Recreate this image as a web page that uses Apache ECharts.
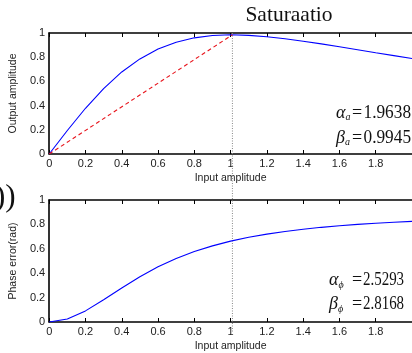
<!DOCTYPE html>
<html><head><meta charset="utf-8">
<script src="https://cdn.jsdelivr.net/npm/echarts@6/dist/echarts.min.js"></script>
<style>html,body{margin:0;padding:0;background:#fff}#c{width:412px;height:353px}</style>
</head><body><div id="c"></div>
<script>
var inputAmp = [0,0.1,0.2,0.3,0.4,0.5,0.6,0.7,0.8,0.9,1.0,1.1,1.2,1.3,1.4,1.5,1.6,1.7,1.8,1.9,2.0];
var outputAmp = [0,0.194,0.378,0.541,0.678,0.786,0.868,0.924,0.960,0.979,0.985,0.980,0.969,0.952,0.932,0.910,0.886,0.862,0.837,0.813,0.789];
var phaseErr = [0,0.025,0.091,0.182,0.279,0.371,0.452,0.521,0.578,0.624,0.663,0.694,0.720,0.742,0.760,0.776,0.789,0.800,0.809,0.818,0.825];
var linearX = [0,1.01];
var linearY = [0,0.985];
var saturationX = 1.01;
var titleText = 'Saturaatio';
var xName = 'Input amplitude';
var yName1 = 'Output amplitude';
var yName2 = 'Phase error(rad)';
var params = [
  {sym:'α', sub:'a', val:'1.9638'},
  {sym:'β', sub:'a', val:'0.9945'},
  {sym:'α', sub:'ϕ', val:'2.5293'},
  {sym:'β', sub:'ϕ', val:'2.8168'}
];

function zip(a,b){return a.map(function(v,i){return [v,b[i]];});}
var chart = echarts.init(document.getElementById('c'));
var lab = {fontFamily:'Liberation Sans, Arial', fontSize:11, color:'#222', margin:4};
function xAx(gi, pos, showLab){
  return {gridIndex:gi, type:'value', position:pos, min:0, max:2, interval:0.2,
    axisLine:{show:true, lineStyle:{color:'#000', width:1.6}},
    axisTick:{show:true, inside:true, length:4, lineStyle:{color:'#000'}},
    splitLine:{show:false},
    axisLabel: showLab ? Object.assign({showMaxLabel:false, formatter:function(v){return String(Math.round(v*10)/10);}}, lab) : {show:false},
    name: showLab ? xName : '', nameLocation:'middle', nameGap:19,
    nameTextStyle:{fontFamily:'Liberation Sans, Arial', fontSize:10.5, color:'#222'}
  };
}
function yAx(gi, nm){
  return {gridIndex:gi, type:'value', min:0, max:1, interval:0.2,
    axisLine:{show:true, lineStyle:{color:'#000', width:1.6}},
    axisTick:{show:false}, splitLine:{show:false},
    axisLabel:Object.assign({formatter:function(v){return String(Math.round(v*10)/10);}}, lab),
    name:nm, nameLocation:'middle', nameGap:23, nameRotate:90,
    nameTextStyle:{fontFamily:'Liberation Sans, Arial', fontSize:10.5, color:'#222'}
  };
}
var option = {
  animation:false,
  backgroundColor:'#fff',
  grid:[
    {left:48, top:33, right:-7, height:121},
    {left:48, top:200, right:-7, height:122}
  ],
  xAxis:[xAx(0,'bottom',true), xAx(0,'top',false), xAx(1,'bottom',true), xAx(1,'top',false)],
  yAxis:[yAx(0,yName1), yAx(1,yName2)],
  series:[
    {type:'line', xAxisIndex:0, yAxisIndex:0, data:zip(inputAmp,outputAmp), showSymbol:false,
      lineStyle:{color:'#0000ff', width:1.1}},
    {type:'line', xAxisIndex:0, yAxisIndex:0, data:zip(linearX,linearY), showSymbol:false,
      lineStyle:{color:'#e8141c', width:1.1, type:[4,3]}},
    {type:'line', xAxisIndex:2, yAxisIndex:1, data:zip(inputAmp,phaseErr), showSymbol:false,
      lineStyle:{color:'#0000ff', width:1.1}}
  ]
};
chart.setOption(option);

var pTop = chart.convertToPixel({xAxisIndex:0, yAxisIndex:0}, [saturationX, 1]);
var pBot = chart.convertToPixel({xAxisIndex:2, yAxisIndex:1}, [saturationX, 0]);
var g = [
  {type:'line', z:1, shape:{x1:pTop[0], y1:pTop[1], x2:pBot[0], y2:pBot[1]+10},
    style:{stroke:'#888', lineWidth:1, lineDash:[1,1.5]}},
  {type:'text', x:289, y:15, style:{text:titleText, font:'21.5px "Liberation Serif", serif', fill:'#111', align:'center', verticalAlign:'middle'}},
  {type:'text', x:-5, y:198, style:{text:'))', font:'31px "Liberation Serif", serif', fill:'#111', verticalAlign:'middle'}}
];
// [symbol x, "=" x, number x, centre y, number horizontal scale]
var paramPos = [[336,352,363.5,113,0.96],[336,352,363.5,138,0.96],[329,352,363,280.5,0.83],[329,352,363,304.5,0.83]];
params.forEach(function(p,i){
  var q = paramPos[i];
  g.push({type:'text', x:q[0], y:q[3], z:10, style:{
    verticalAlign:'middle',
    rich:{
      s:{fontFamily:'Liberation Serif', fontStyle:'italic', fontSize:18, fill:'#111'},
      b:{fontFamily:'Liberation Serif', fontStyle:'italic', fontSize:10, fill:'#111', padding:[9,0,0,0]}
    },
    text:'{s|'+p.sym+'}{b|'+p.sub+'}'
  }});
  g.push({type:'text', x:q[1], y:q[3], z:10, style:{text:'=', font:'18px "Liberation Serif", serif', fill:'#111', verticalAlign:'middle'}});
  g.push({type:'text', x:q[2], y:q[3], scaleX:q[4], z:10, style:{text:p.val, font:'18px "Liberation Serif", serif', fill:'#111', verticalAlign:'middle'}});
});
chart.setOption({graphic:g});
</script></body></html>
